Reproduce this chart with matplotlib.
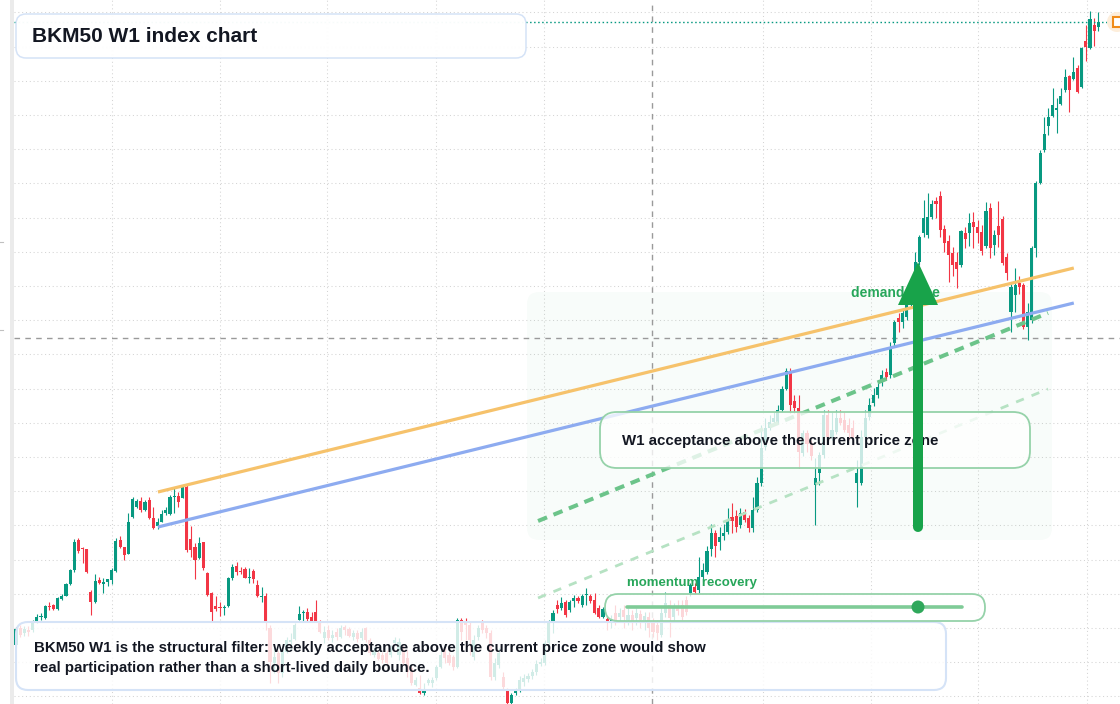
import numpy as np
import matplotlib
matplotlib.use("Agg")
import matplotlib.pyplot as plt
from matplotlib.patches import FancyBboxPatch, Polygon, Rectangle, Circle
from matplotlib.transforms import Affine2D

plt.rcParams['font.family'] = ['Liberation Sans', 'DejaVu Sans']
plt.rcParams['lines.scale_dashes'] = False

# ---------------- data (weekly OHLC, index points) ----------------
opens = [
    155, 172, 167, 170, 170, 178, 183, 182, 194, 195,
    191, 201, 204, 216, 230, 260, 252, 251, 208, 198,
    220, 216, 218, 220, 229, 260, 253, 246, 283, 293,
    299, 290, 300, 282, 274, 278, 287, 286, 303, 304,
    302, 313, 261, 253, 242, 258, 227, 207, 194, 193,
    192, 194, 222, 234, 229, 231, 222, 229, 215, 203,
    204, 172, 137, 147, 127, 148, 158, 161, 180, 187,
    188, 183, 188, 178, 162, 170, 162, 168, 163, 173,
    171, 163, 167, 162, 172, 160, 145, 147, 145, 147,
    145, 157, 145, 150, 142, 132, 115, 112, 107, 117,
    117, 122, 133, 148, 145, 143, 133, 180, 179, 175,
    143, 163, 177, 172, 167, 123, 135, 123, 110, 97,
    107, 110, 118, 121, 124, 128, 136, 137, 157, 178,
    195, 192, 198, 190, 199, 202, 195, 205, 204, 200,
    192, 183, 181, 178, 187, 183, 190, 180, 185, 182,
    186, 180, 183, 178, 175, 165, 187, 195, 183, 193,
    195, 200, 207, 213, 210, 223, 228, 251, 267, 258,
    264, 268, 283, 284, 275, 288, 282, 272, 290, 317,
    353, 372, 378, 378, 390, 411, 429, 399, 392, 347,
    367, 357, 315, 327, 345, 385, 362, 368, 382, 380,
    375, 372, 317, 317, 363, 383, 397, 405, 417, 428,
    425, 457, 482, 478, 483, 495, 510, 538, 567, 565,
    583, 599, 604, 571, 559, 547, 538, 535, 567, 567,
    578, 573, 568, 554, 592, 555, 574, 581, 543, 488,
    505, 517, 515, 473, 480, 552, 617, 650, 674, 684,
    690, 696, 710, 724, 721, 732, 713, 759, 752, 775,
    773,
]
closes = [
    171, 165, 171, 168, 177, 183, 184, 194, 193, 191,
    202, 204, 216, 230, 258, 249, 251, 228, 198, 219,
    217, 218, 221, 230, 259, 253, 245, 278, 301, 299,
    290, 298, 282, 272, 278, 286, 290, 303, 304, 298,
    313, 250, 250, 240, 257, 232, 205, 188, 191, 192,
    193, 222, 233, 228, 228, 222, 223, 221, 204, 204,
    179, 138, 143, 127, 150, 160, 160, 175, 186, 188,
    181, 179, 179, 168, 168, 162, 165, 163, 172, 170,
    164, 167, 161, 168, 160, 147, 150, 141, 140, 137,
    152, 160, 158, 137, 128, 117, 120, 107, 110, 120,
    120, 133, 145, 142, 137, 133, 180, 168, 175, 160,
    160, 172, 170, 167, 123, 137, 147, 113, 97, 105,
    110, 120, 122, 124, 128, 136, 138, 157, 178, 187,
    191, 197, 185, 198, 202, 199, 204, 206, 199, 187,
    183, 191, 178, 181, 180, 187, 183, 185, 178, 187,
    180, 184, 172, 168, 167, 187, 197, 182, 193, 189,
    183, 188, 215, 208, 223, 230, 249, 267, 254, 263,
    267, 280, 279, 273, 287, 280, 272, 290, 317, 352,
    372, 378, 382, 390, 411, 429, 395, 392, 348, 367,
    356, 344, 322, 345, 385, 363, 370, 382, 377, 370,
    367, 362, 327, 363, 382, 395, 405, 413, 425, 423,
    452, 478, 478, 487, 495, 510, 538, 563, 582, 583,
    596, 596, 570, 557, 545, 535, 531, 569, 561, 577,
    573, 567, 549, 589, 552, 565, 565, 537, 527, 513,
    515, 513, 473, 488, 552, 617, 647, 666, 683, 695,
    692, 704, 723, 710, 728, 708, 752, 753, 781, 769,
    778,
]
highs = [
    173, 175, 174, 174, 180, 186, 187, 195, 198, 196,
    203, 206, 217, 231, 261, 262, 253, 251, 210, 226,
    223, 222, 221, 232, 262, 264, 253, 287, 303, 301,
    303, 300, 303, 293, 282, 290, 293, 305, 312, 308,
    315, 315, 274, 257, 263, 258, 228, 208, 204, 198,
    195, 223, 236, 238, 233, 233, 232, 231, 220, 213,
    207, 175, 152, 150, 153, 163, 167, 177, 194, 190,
    192, 188, 200, 180, 174, 175, 170, 172, 175, 175,
    173, 170, 170, 172, 173, 162, 153, 150, 148, 150,
    155, 163, 162, 155, 150, 135, 123, 125, 117, 122,
    123, 135, 150, 152, 148, 145, 182, 182, 182, 178,
    165, 175, 180, 175, 170, 142, 152, 128, 112, 107,
    112, 124, 126, 127, 131, 140, 142, 160, 180, 190,
    200, 203, 200, 200, 205, 204, 206, 212, 206, 207,
    195, 193, 183, 185, 195, 192, 195, 192, 190, 192,
    190, 188, 188, 182, 180, 192, 208, 200, 197, 200,
    200, 204, 217, 217, 243, 237, 254, 276, 270, 273,
    276, 292, 297, 290, 292, 291, 285, 303, 323, 375,
    382, 385, 388, 395, 414, 432, 432, 405, 405, 370,
    370, 360, 342, 348, 390, 390, 388, 390, 390, 388,
    382, 380, 340, 370, 390, 402, 412, 420, 430, 432,
    458, 480, 487, 492, 500, 515, 548, 565, 600, 607,
    600, 603, 609, 575, 565, 553, 548, 570, 573, 587,
    588, 580, 575, 598, 597, 570, 599, 584, 547, 516,
    532, 524, 517, 497, 554, 619, 650, 683, 692, 712,
    702, 712, 731, 725, 743, 735, 753, 775, 789, 782,
    788,
]
lows = [
    152, 163, 164, 164, 168, 177, 180, 181, 190, 190,
    190, 200, 204, 215, 228, 247, 237, 227, 185, 197,
    216, 207, 214, 216, 228, 252, 240, 246, 282, 292,
    288, 289, 281, 271, 271, 278, 285, 285, 287, 293,
    302, 248, 243, 221, 241, 230, 204, 178, 189, 184,
    185, 193, 220, 225, 226, 222, 217, 217, 203, 198,
    170, 117, 127, 117, 123, 147, 150, 160, 180, 178,
    178, 178, 178, 167, 157, 160, 158, 160, 162, 165,
    163, 160, 158, 160, 158, 145, 143, 140, 137, 135,
    143, 155, 140, 135, 123, 115, 114, 106, 105, 115,
    113, 120, 132, 137, 135, 130, 132, 160, 160, 145,
    140, 160, 167, 162, 120, 120, 132, 110, 96, 96,
    105, 108, 114, 118, 121, 125, 134, 135, 155, 167,
    187, 190, 183, 188, 193, 197, 193, 195, 197, 186,
    182, 182, 170, 172, 175, 178, 172, 175, 170, 175,
    172, 170, 163, 163, 160, 163, 183, 163, 180, 185,
    180, 185, 204, 206, 207, 218, 226, 244, 243, 250,
    260, 266, 267, 268, 272, 278, 268, 268, 288, 314,
    350, 370, 375, 376, 388, 410, 387, 387, 332, 344,
    348, 340, 275, 315, 342, 360, 360, 366, 375, 368,
    360, 355, 293, 315, 360, 380, 394, 402, 414, 420,
    422, 453, 468, 472, 480, 492, 507, 535, 563, 562,
    581, 582, 563, 548, 518, 524, 512, 533, 552, 554,
    552, 557, 545, 552, 542, 545, 553, 535, 520, 468,
    488, 506, 471, 460, 477, 543, 616, 648, 665, 683,
    667, 695, 708, 688, 720, 707, 712, 739, 751, 754,
    769,
]

# trend lines: (week index, index level) anchors
trend_weeks = [34.1, 254.1]
resistance_levels = [308, 532]
support_levels = [273, 497]
channel_weeks = [125.4, 247.9]
channel_upper = [279, 487]
channel_lower = [202, 411]
crosshair_week = 152.7
crosshair_level = 462

title = "BKM50 W1 index chart"
note_lines = ["BKM50 W1 is the structural filter: weekly acceptance above the current price zone would show",
              "real participation rather than a short-lived daily bounce."]
zone_note = "W1 acceptance above the current price zone"
momentum_label = "momentum recovery"
demand_label = "demand zone"

# ---------------- figure ----------------
W, H = 1120, 704
fig = plt.figure(figsize=(W / 100, H / 100), dpi=100)
ax = fig.add_axes([0, 0, 1, 1])
X0, DX = 16.0, 4.163  # pixel of first candle, pixels per week
ax.set_xlim((0 - X0) / DX, (W - X0) / DX)
ax.set_ylim(96, 800)
ax.axis('off')

PX = Affine2D().scale(0.01) + fig.dpi_scale_trans   # pixel coords (y up)
def yp(y):
    return H - y

x_left = (14 - X0) / DX
x_right = (W - X0) / DX

UP, DOWN = '#089981', '#f23645'
TXT = '#131722'
GREEN_TXT = '#27a65a'

# grid
grid_kw = dict(color='#d4d4d4', lw=0.75, linestyle=(0, (0.75, 2.0)), zorder=0.5)
for p in np.arange(787.6, 96, -34.2):
    ax.plot([x_left, x_right], [p, p], **grid_kw)
for gx in [23.0, 49.0, 74.8, 100.8, 126.8, 179.5, 205.3, 231.2, 257.2]:
    ax.plot([gx, gx], [96, 800], **grid_kw)

# demand zone shading
ax.add_patch(FancyBboxPatch((527, yp(540)), 525, 248, boxstyle="round,pad=0,rounding_size=12",
                            transform=PX, fc=(0.09, 0.64, 0.29, 0.028), ec='none', zorder=1))

# crosshair
ax.plot([crosshair_week, crosshair_week], [96, 800], color='#9a9a9a', lw=1.0,
        linestyle=(0, (4.0, 3.8)), zorder=1.5)
ax.plot([x_left, x_right], [crosshair_level, crosshair_level], color='#9a9a9a', lw=1.0,
        linestyle=(0, (4.0, 3.8)), zorder=1.5)

# candles
n = min(len(opens), len(closes), len(highs), len(lows))
o = np.array(opens[:n], float); c = np.array(closes[:n], float)
hi = np.array(highs[:n], float); lo = np.array(lows[:n], float)
idx = np.arange(n)
cols = np.where(c >= o, UP, DOWN)
ax.vlines(idx, lo, hi, colors=cols, lw=0.8, zorder=3)
ax.bar(idx, np.maximum(np.abs(c - o), 1.2), bottom=np.minimum(o, c), width=0.75,
       color=cols, lw=0, zorder=3.1)

# trend lines
ax.plot(trend_weeks, resistance_levels, color='#f6c26b', lw=2.3, solid_capstyle='butt', zorder=4)
ax.plot(trend_weeks, support_levels, color='#8dabf0', lw=2.3, solid_capstyle='butt', zorder=4)
ax.plot(channel_weeks, channel_upper, color='#6cc48a', lw=2.9, linestyle=(0, (7.0, 5.0)), zorder=4)
ax.plot(channel_weeks, channel_lower, color='#b6e2c3', lw=2.0, linestyle=(0, (6.0, 6.0)), zorder=4)

# last price line
ax.plot([x_left, (1112 - X0) / DX], [c[-1], c[-1]], color='#089981', lw=1.0,
        linestyle=(0, (1.1, 1.8)), zorder=4)
ax.add_patch(Circle((1117, yp(22)), 10, transform=PX, fc='#fdeedb', ec='none', zorder=4.5))
ax.add_patch(Rectangle((1113, yp(27)), 9, 10, transform=PX, fc='white', ec='#f08c1a', lw=1.5, zorder=4.6))

# boxes
def rbox(x, y, w, h, r, fc, ec, lw, z=10):
    ax.add_patch(FancyBboxPatch((x, yp(y + h)), w, h, boxstyle=f"round,pad=0,rounding_size={r}",
                                transform=PX, fc=fc, ec=ec, lw=lw, zorder=z))

rbox(16, 14, 510, 44, 10, (1, 1, 1, 0.97), '#d5e3f7', 1.1)
rbox(16, 622, 930, 68, 12, (1, 1, 1, 0.82), '#d5e3f7', 1.5)
rbox(600, 412, 430, 56, 17, (1, 1, 1, 0.78), '#95d2a9', 1.3)
rbox(605, 594, 380, 27, 13, (1, 1, 1, 0.80), '#95d2a9', 1.3)

# momentum gauge
ax.plot([627, 962], [yp(607), yp(607)], transform=PX, color='#7fcb97', lw=2.6,
        solid_capstyle='round', zorder=11)
ax.add_patch(Circle((918, yp(607)), 6.5, transform=PX, fc='#2fa85b', ec='none', zorder=12))

# texts
ax.text(32, yp(36.5), title, transform=PX, fontsize=15, fontweight='bold', color=TXT,
        va='center', ha='left', zorder=12)
ax.text(34, yp(648), note_lines[0], transform=PX, fontsize=10.8, fontweight='bold', color=TXT,
        va='center', ha='left', zorder=12)
ax.text(34, yp(668), note_lines[1], transform=PX, fontsize=10.8, fontweight='bold', color=TXT,
        va='center', ha='left', zorder=12)
ax.text(622, yp(441), zone_note, transform=PX, fontsize=10.8, fontweight='bold', color=TXT,
        va='center', ha='left', zorder=12)
ax.text(627, yp(583), momentum_label, transform=PX, fontsize=9.5, fontweight='bold',
        color=GREEN_TXT, va='center', ha='left', zorder=12)
ax.text(851, yp(293), demand_label, transform=PX, fontsize=10, fontweight='bold',
        color=GREEN_TXT, va='center', ha='left', zorder=12)

# arrow
ax.plot([918, 918], [yp(527), yp(300)], transform=PX, color='#18a34a', lw=7.2,
        solid_capstyle='round', zorder=13)
ax.add_patch(Polygon([(898, yp(305)), (938, yp(305)), (918, yp(262))], closed=True,
                     transform=PX, fc='#18a34a', ec='none', zorder=13))

# left strip and ticks
ax.add_patch(Rectangle((10, 0), 4, H, transform=PX, fc='#ebebeb', ec='none', zorder=20))
for ty in (242, 330):
    ax.plot([0, 3], [yp(ty), yp(ty)], transform=PX, color='#c0c0c0', lw=0.8, zorder=20)

fig.savefig("out.png", dpi=100, facecolor='white')
